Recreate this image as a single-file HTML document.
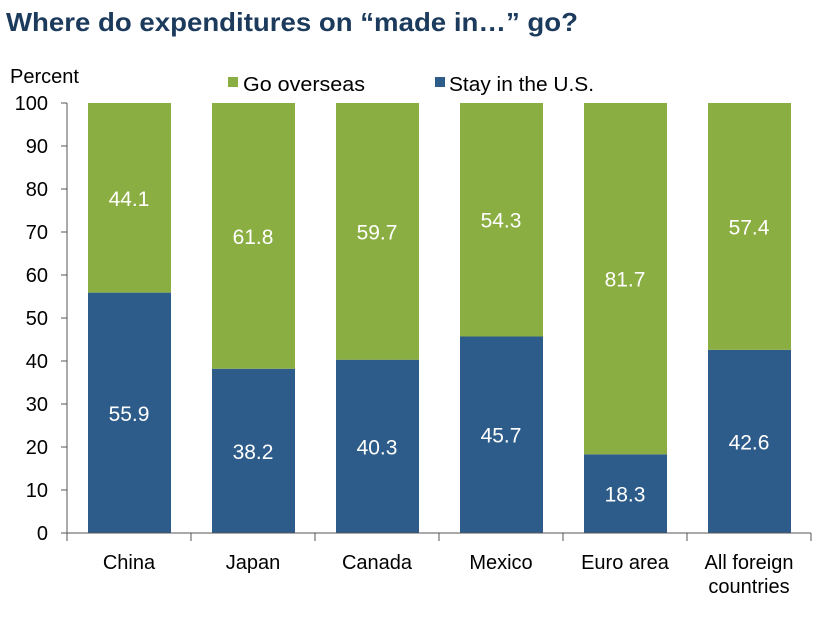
<!DOCTYPE html>
<html><head><meta charset="utf-8"><style>
body{margin:0;background:#fff;}
svg text{font-family:"Liberation Sans",sans-serif;}
</style></head><body>
<svg id="chart" width="832" height="624" xmlns="http://www.w3.org/2000/svg">
<text x="6" y="31" font-size="26" font-weight="bold" fill="#1b3a5c" textLength="572" lengthAdjust="spacingAndGlyphs">Where do expenditures on “made in…” go?</text>
<text x="10" y="83" font-size="20" fill="#000">Percent</text>
<rect x="228" y="77" width="10" height="10" fill="#8bae42"/>
<text x="243" y="91" font-size="20" fill="#000" textLength="122" lengthAdjust="spacingAndGlyphs">Go overseas</text>
<rect x="435" y="77" width="10" height="10" fill="#2e5c8a"/>
<text x="449" y="91" font-size="20" fill="#000" textLength="145" lengthAdjust="spacingAndGlyphs">Stay in the U.S.</text>
<g id="plot"></g>
</svg>
<script>
const categories=[["China"],["Japan"],["Canada"],["Mexico"],["Euro area"],["All foreign","countries"]];
const stayUS=[55.9,38.2,40.3,45.7,18.3,42.6];
const overseas=[44.1,61.8,59.7,54.3,81.7,57.4];
const yTicks=[0,10,20,30,40,50,60,70,80,90,100];
const NS="http://www.w3.org/2000/svg";
const g=document.getElementById('plot');
const X0=67,CW=124,Y0=533,Y100=103;
const y=v=>Y0+(Y100-Y0)*v/100;
const cx=i=>X0+CW*i+CW/2;
function el(t,a){const e=document.createElementNS(NS,t);for(const k in a)e.setAttribute(k,a[k]);g.appendChild(e);return e;}
yTicks.forEach(t=>{
 const l=el('line',{x1:61,x2:X0,y1:y(t),y2:y(t),stroke:'#555','stroke-width':1});
 
 
 const tx=el('text',{x:48,y:y(t)+7,'font-size':20,'text-anchor':'end',fill:'#000'});
 tx.textContent=t;
 
 
});
categories.forEach((c,i)=>{
 const bx=X0+CW*i+21,bw=83;
 const b1=el('rect',{x:bx,y:y(stayUS[i]),width:bw,height:Y0-y(stayUS[i]),fill:'#2e5c8a'});
 
 
 const b2=el('rect',{x:bx,y:y(stayUS[i]+overseas[i]),width:bw,height:y(stayUS[i])-y(stayUS[i]+overseas[i]),fill:'#8bae42'});
 
 
 const t1=el('text',{x:cx(i),y:y(stayUS[i]/2)+8,'font-size':21,'text-anchor':'middle',fill:'#fff'});
 t1.textContent=stayUS[i].toFixed(1);
 
 
 const t2=el('text',{x:cx(i),y:y(stayUS[i]+overseas[i]/2)+8,'font-size':21,'text-anchor':'middle',fill:'#fff'});
 t2.textContent=overseas[i].toFixed(1);
 
 
 c.forEach((s,j)=>{
  const tl=el('text',{x:cx(i),y:569+j*24,'font-size':20,'text-anchor':'middle',fill:'#000'});
  tl.textContent=s;
  
  
 });
});
for(let i=0;i<=categories.length;i++){
 const t=el('line',{x1:X0+CW*i,x2:X0+CW*i,y1:Y0,y2:541,stroke:'#555','stroke-width':1});
 
 
}
const ya=el('line',{x1:X0,x2:X0,y1:Y100,y2:Y0,stroke:'#555','stroke-width':1});


const xa=el('line',{x1:61,x2:X0+CW*6,y1:Y0,y2:Y0,stroke:'#555','stroke-width':1});


</script>
</body></html>
